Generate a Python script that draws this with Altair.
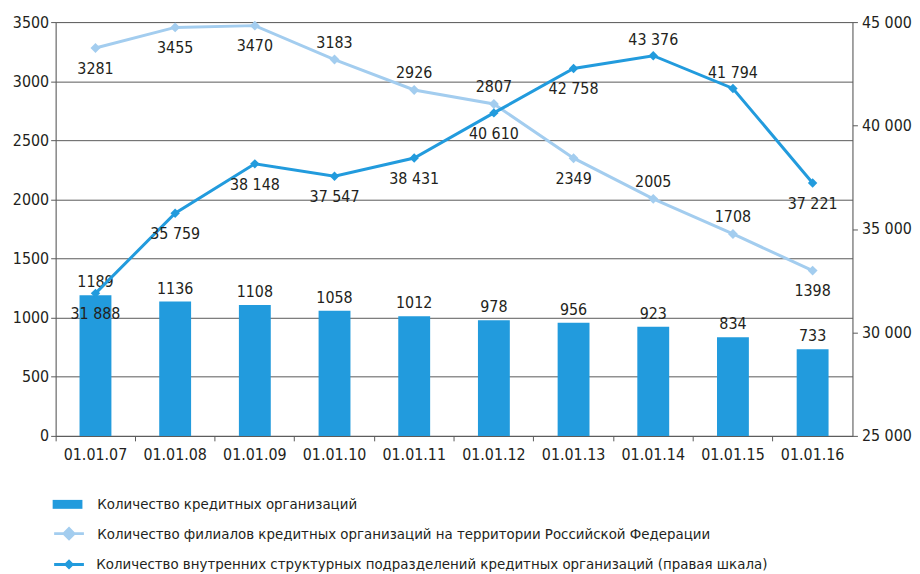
import altair as alt
import pandas as pd

dates = ["01.01.07", "01.01.08", "01.01.09", "01.01.10", "01.01.11",
         "01.01.12", "01.01.13", "01.01.14", "01.01.15", "01.01.16"]
orgs = [1189, 1136, 1108, 1058, 1012, 978, 956, 923, 834, 733]
branches = [3281, 3455, 3470, 3183, 2926, 2807, 2349, 2005, 1708, 1398]
units = [31888, 35759, 38148, 37547, 38431, 40610, 42758, 43376, 41794, 37221]
branch_label_pos = ["below", "below", "below", "above", "above",
                    "above", "below", "above", "above", "below"]
unit_label_pos = ["below", "below", "below", "below", "below",
                  "below", "below", "above", "above", "below"]

s_orgs = "Количество кредитных организаций"
s_branches = "Количество филиалов кредитных организаций на территории Российской Федерации"
s_units = "Количество внутренних структурных подразделений кредитных организаций (правая шкала)"

df = pd.DataFrame({
    "date": dates, "orgs": orgs, "branches": branches, "units": units,
    "bpos": branch_label_pos, "upos": unit_label_pos,
})

BLUE = "#229bdd"
LIGHT = "#a3cdef"
TXT = "#231f20"
FONT = "Liberation Sans Narrow, Arial Narrow, DejaVu Sans Condensed, sans-serif"
GRID = "#5a5a5a"

base = alt.Chart(df)

x = alt.X("date:N", sort=dates, title=None,
          scale=alt.Scale(paddingInner=0, paddingOuter=0),
          axis=alt.Axis(labelAngle=0, bandPosition=0, grid=False, tickSize=5,
                        tickColor=GRID, domainColor=GRID, labelFontSize=16,
                        labelPadding=6, labelColor=TXT, labelFont=FONT))

left_axis = alt.Axis(values=[0, 500, 1000, 1500, 2000, 2500, 3000, 3500], format="d",
                     grid=True, gridColor=GRID, gridOpacity=1, tickSize=5,
                     tickColor=GRID, domainColor=GRID, labelFontSize=16,
                     labelColor=TXT, labelFont=FONT, labelPadding=2, title=None)
left_scale = alt.Scale(domain=[0, 3500])

right_scale = alt.Scale(domain=[25000, 45000])
right_axis = alt.Axis(orient="right", values=[25000, 30000, 35000, 40000, 45000],
                      labelExpr="replace(format(datum.value, ','), ',', ' ')",
                      grid=False, tickSize=5, tickColor=GRID, domainColor=GRID,
                      labelFontSize=16, labelColor=TXT, labelFont=FONT, labelPadding=4,
                      title=None)


def yl(field):
    return alt.Y(field, scale=left_scale, axis=left_axis)


def yr(field):
    return alt.Y(field, scale=right_scale, axis=right_axis)


leg_common = dict(title=None, orient="none", legendX=-3, padding=0,
                  labelFont=FONT, labelFontSize=15, labelColor=TXT,
                  labelLimit=900, symbolSize=900)

bars = base.transform_calculate(series="'%s'" % s_orgs).mark_bar(
    color=BLUE, width=alt.RelativeBandSize(0.4)
).encode(
    x=x, y=yl("orgs:Q"),
    color=alt.Color("series:N", scale=alt.Scale(range=[BLUE]),
                    legend=alt.Legend(legendY=471, symbolType="M-1,-0.3H1V0.3H-1Z",
                                      symbolFillColor=BLUE, symbolStrokeWidth=0,
                                      labelOffset=15, **leg_common)),
)
bar_labels = base.mark_text(font=FONT, fontSize=16, color=TXT, baseline="bottom", dy=-5).encode(
    x=x, y=yl("orgs:Q"), text=alt.Text("orgs:Q", format="d"))

light_line = base.transform_calculate(series="'%s'" % s_branches).mark_line(
    color=LIGHT, strokeWidth=3
).encode(
    x=x, y=yl("branches:Q"),
    color=alt.Color("series:N", scale=alt.Scale(range=[LIGHT]),
                    legend=alt.Legend(legendY=499, symbolType="M-1,0H1M-0.33,0L0,-0.33L0.33,0L0,0.33Z",
                                      symbolFillColor=LIGHT, symbolStrokeColor=LIGHT,
                                      symbolStrokeWidth=3, labelOffset=12, **leg_common)),
)
light_pts = base.mark_point(shape="diamond", filled=True, color=LIGHT, size=100, opacity=1).encode(
    x=x, y=yl("branches:Q"))
light_lab_below = base.transform_filter("datum.bpos == 'below'").mark_text(
    font=FONT, fontSize=16, color=TXT, baseline="middle", dy=21).encode(
    x=x, y=yl("branches:Q"), text=alt.Text("branches:Q", format="d"))
light_lab_above = base.transform_filter("datum.bpos == 'above'").mark_text(
    font=FONT, fontSize=16, color=TXT, baseline="middle", dy=-17).encode(
    x=x, y=yl("branches:Q"), text=alt.Text("branches:Q", format="d"))

left = alt.layer(bars, light_line, light_pts, bar_labels, light_lab_below, light_lab_above).resolve_scale(
    color="independent")

dark_line = base.transform_calculate(series="'%s'" % s_units).mark_line(
    color=BLUE, strokeWidth=3
).encode(
    x=x, y=yr("units:Q"),
    color=alt.Color("series:N", scale=alt.Scale(range=[BLUE]),
                    legend=alt.Legend(legendY=530, symbolType="M-1,0H1M-0.2,0L0,-0.2L0.2,0L0,0.2Z",
                                      symbolFillColor=BLUE, symbolStrokeColor=BLUE,
                                      symbolStrokeWidth=3, labelOffset=11, **leg_common)),
)
dark_pts = base.mark_point(shape="diamond", filled=True, color=BLUE, size=90, opacity=1).encode(
    x=x, y=yr("units:Q"))
fmt = "replace(format(datum.units, ','), ',', ' ')"
dark_lab_below = base.transform_filter("datum.upos == 'below'").transform_calculate(
    lab=fmt).mark_text(font=FONT, fontSize=16, color=TXT, baseline="middle", dy=21).encode(
    x=x, y=yr("units:Q"), text="lab:N")
dark_lab_above = base.transform_filter("datum.upos == 'above'").transform_calculate(
    lab=fmt).mark_text(font=FONT, fontSize=16, color=TXT, baseline="middle", dy=-16).encode(
    x=x, y=yr("units:Q"), text="lab:N")

right = alt.layer(dark_line, dark_pts, dark_lab_below, dark_lab_above)

chart = alt.layer(left, right).resolve_scale(y="independent", color="independent").properties(
    width=803, height=417, padding={"left": 4, "top": 4, "right": 0, "bottom": 0}
).configure_view(stroke=None).configure(background="white")

chart.save("out.html", embed_options={"renderer": "svg", "actions": False})
